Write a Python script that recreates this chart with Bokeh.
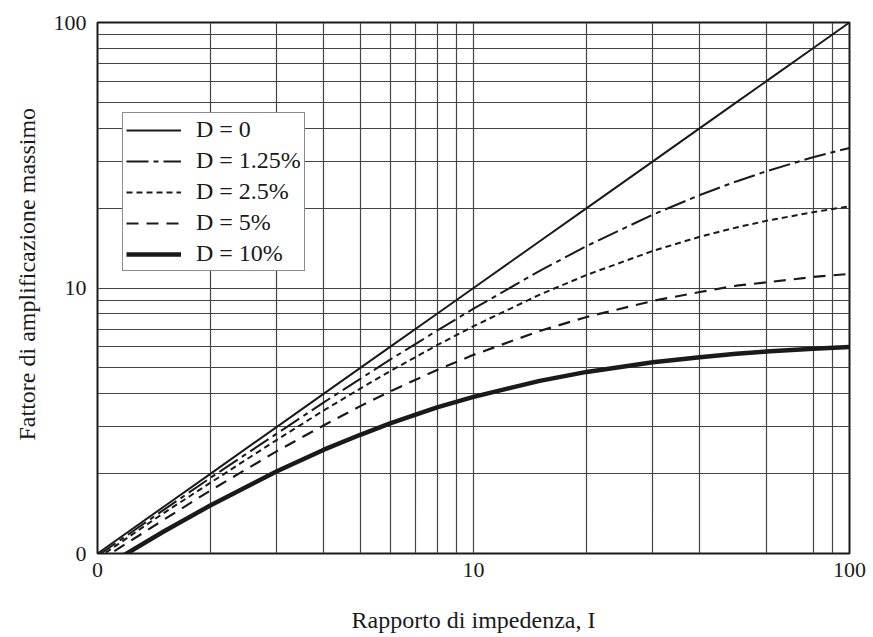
from bokeh.plotting import figure
from bokeh.models import Range1d, FixedTicker, Legend, LegendItem, Title
from bokeh.embed import file_html
from bokeh.resources import INLINE

# Impedance ratio I (x) and maximum amplification factor for each damping ratio D
impedance = [1, 1.5, 2, 3, 4, 5, 6, 8, 10, 15, 20, 30, 40, 50, 60, 80, 100]
amp_d0 = [1, 1.5, 2, 3, 4, 5, 6, 8, 10, 15, 20, 30, 40, 50, 60, 80, 100]
amp_d125 = [0.98, 1.46, 1.93, 2.83, 3.71, 4.55, 5.37, 6.91, 8.36, 11.6, 14.4, 18.9, 22.4, 25.2, 27.5, 31.1, 33.7]
amp_d25 = [0.96, 1.42, 1.85, 2.68, 3.46, 4.18, 4.86, 6.09, 7.18, 9.44, 11.2, 13.8, 15.6, 16.9, 17.9, 19.3, 20.3]
amp_d5 = [0.93, 1.34, 1.73, 2.43, 3.04, 3.59, 4.08, 4.91, 5.60, 6.89, 7.78, 8.94, 9.66, 10.2, 10.5, 11.0, 11.3]
amp_d10 = [0.86, 1.21, 1.52, 2.04, 2.46, 2.80, 3.09, 3.55, 3.89, 4.47, 4.83, 5.25, 5.49, 5.65, 5.76, 5.90, 5.99]

series_labels = ["D = 0", "D = 1.25%", "D = 2.5%", "D = 5%", "D = 10%"]

# Axis ticks: decades labelled, grid at the intermediate values
major_ticks = [1, 10, 100]
major_labels = {1: "0", 10: "10", 100: "100"}
x_minor = [2, 3, 4, 5, 6, 7, 8, 9, 20, 30, 40, 60, 80, 90]
y_minor = [2, 3, 4, 5, 6, 7, 8, 9, 20, 30, 40, 50, 60, 70, 80, 90]

FONT = "Liberation Serif"
INK = "#1a1a1a"
GRID = "#444444"

p = figure(
    width=873, height=637,
    x_axis_type="log", y_axis_type="log",
    x_range=Range1d(1, 100), y_range=Range1d(1, 100),
    output_backend="svg", toolbar_location=None,
    min_border_left=96, min_border_right=24,
    min_border_top=22, min_border_bottom=84,
)
p.background_fill_color = "white"
p.border_fill_color = "white"
p.outline_line_color = INK
p.outline_line_width = 2

p.xaxis.ticker = FixedTicker(ticks=major_ticks, minor_ticks=x_minor)
p.yaxis.ticker = FixedTicker(ticks=major_ticks, minor_ticks=y_minor)
for ax in (p.xaxis, p.yaxis):
    ax.major_label_overrides = major_labels
    ax.axis_line_color = None
    ax.major_tick_line_color = None
    ax.minor_tick_line_color = None
    ax.major_tick_out = 0
    ax.minor_tick_out = 0
    ax.major_label_text_font = FONT
    ax.major_label_text_font_size = "22px"
    ax.major_label_text_color = INK
    ax.major_label_text_line_height = 0.9
p.xaxis.major_label_standoff = 9
p.yaxis.major_label_standoff = 11

p.xaxis.axis_label = "Rapporto di impedenza, I"
p.xaxis.axis_label_text_font = FONT
p.xaxis.axis_label_text_font_size = "24px"
p.xaxis.axis_label_text_font_style = "normal"
p.xaxis.axis_label_text_color = INK
p.xaxis.axis_label_text_line_height = 0.9
p.xaxis.axis_label_standoff = 27

for g in (p.xgrid, p.ygrid):
    g.grid_line_color = GRID
    g.grid_line_width = 1.2
    g.minor_grid_line_color = GRID
    g.minor_grid_line_width = 1.2

r0 = p.line(impedance, amp_d0, line_color=INK, line_width=2)
r1 = p.line(impedance, amp_d125, line_color=INK, line_width=2, line_dash="22 5 5 5")
r2 = p.line(impedance, amp_d25, line_color=INK, line_width=2, line_dash="6 4")
r3 = p.line(impedance, amp_d5, line_color=INK, line_width=2.2, line_dash="12 8")
r4 = p.line(impedance, amp_d10, line_color=INK, line_width=4.5)

legend = Legend(
    items=[LegendItem(label=lab, renderers=[r]) for lab, r in
           zip(series_labels, [r0, r1, r2, r3, r4])],
    location=(25, 282),
    label_text_font=FONT,
    label_text_font_size="24px",
    label_text_color=INK,
    label_standoff=15,
    glyph_width=55,
    glyph_height=24,
    label_height=24,
    spacing=4,
    padding=3,
    margin=0,
    border_line_color=INK,
    border_line_width=1.5,
    background_fill_color="white",
    background_fill_alpha=1,
)
p.add_layout(legend, "center")

# Vertical axis title, starting a little above the frame bottom
ytitle = Title(
    text="Fattore di amplificazione massimo",
    align="left", offset=113, standoff=22,
    text_font=FONT, text_font_size="24px", text_font_style="normal",
    text_color=INK,
)
p.add_layout(ytitle, "left")

open("out.html", "w").write(file_html(p, INLINE))
